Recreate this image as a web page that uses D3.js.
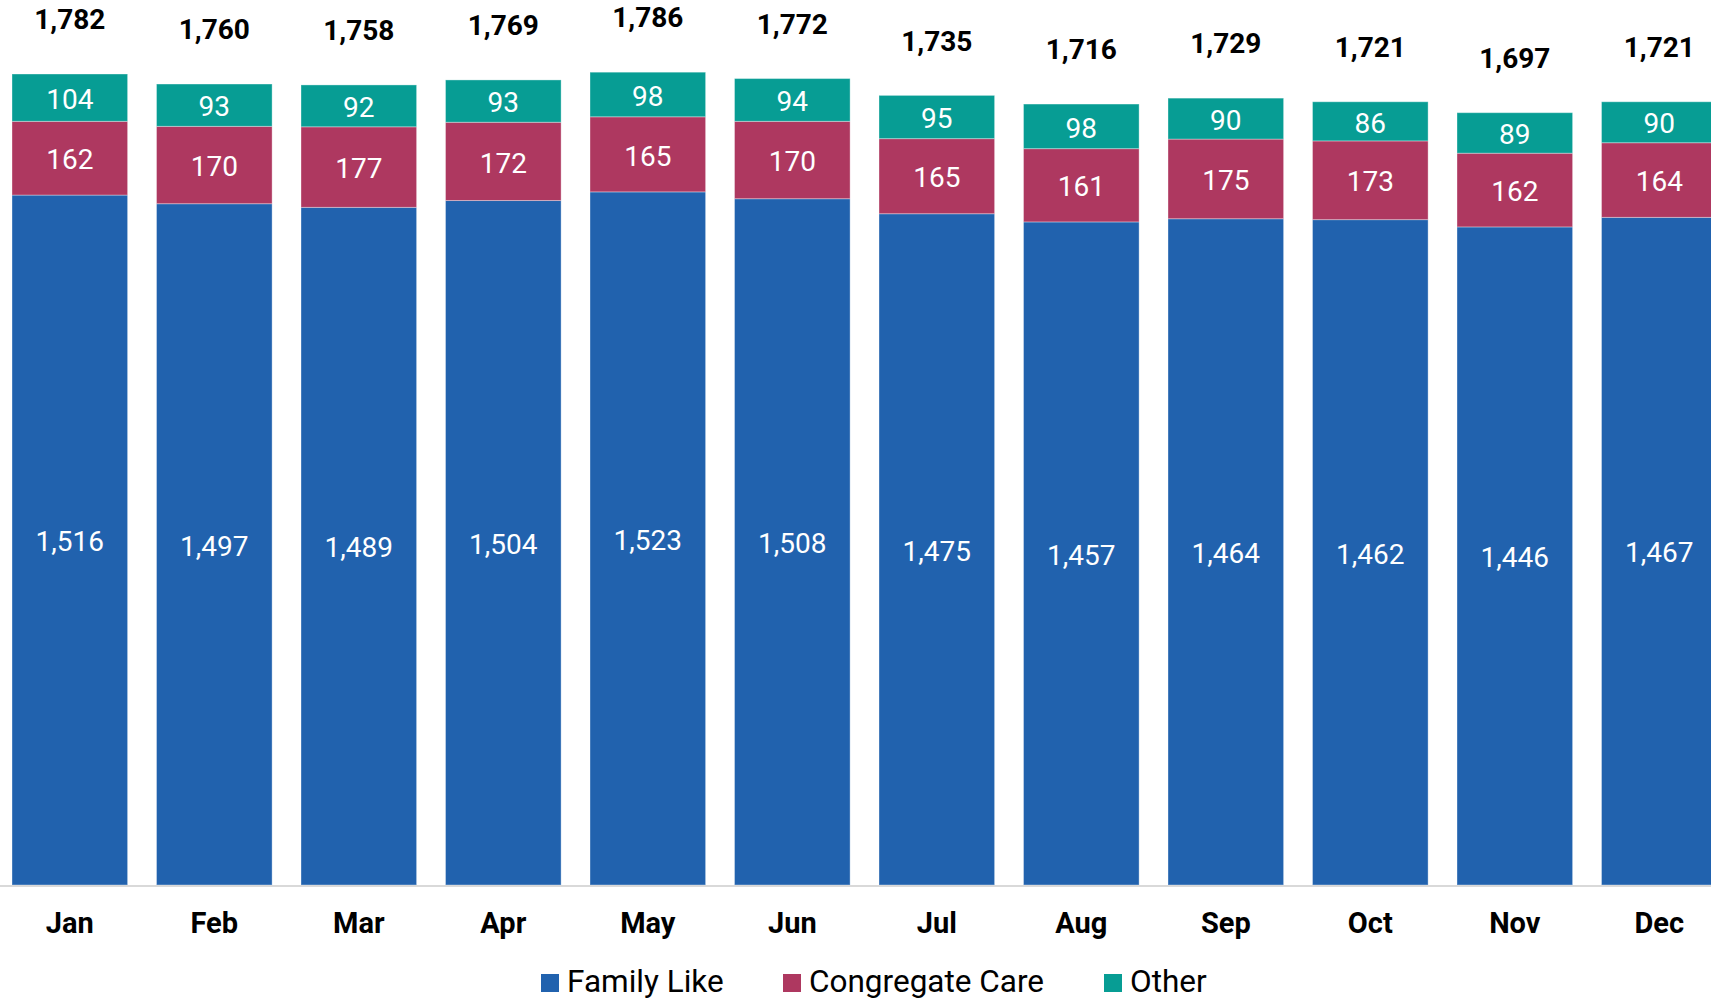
<!DOCTYPE html>
<html>
<head>
<meta charset="utf-8">
<script src="https://cdn.jsdelivr.net/npm/d3@7"></script>
<style>
  body { margin: 0; background: #fff; }
  svg { display: block; }
</style>
</head>
<body>
<script>
var months = ["Jan", "Feb", "Mar", "Apr", "May", "Jun", "Jul", "Aug", "Sep", "Oct", "Nov", "Dec"];
var familyLike = [1516, 1497, 1489, 1504, 1523, 1508, 1475, 1457, 1464, 1462, 1446, 1467];
var congregateCare = [162, 170, 177, 172, 165, 170, 165, 161, 175, 173, 162, 164];
var other = [104, 93, 92, 93, 98, 94, 95, 98, 90, 86, 89, 90];
var seriesNames = ["Family Like", "Congregate Care", "Other"];

var colors = ["#2162ae", "#ae3860", "#079d94"];

var w = 1711;
var h = 999;
var baseY = 885;
var pxPerUnit = 0.4551;

var rows = months.map(function(m, i) {
	return { month: m, "Family Like": familyLike[i], "Congregate Care": congregateCare[i], "Other": other[i] };
});

var stack = d3.stack().keys(seriesNames);
var layers = stack(rows);

var x = d3.scaleBand()
	.domain(months)
	.range([-2.45, -2.45 + 12 * 144.5])
	.paddingInner(0.2)
	.paddingOuter(0.1);

var y = d3.scaleLinear()
	.domain([0, 2000])
	.range([baseY, baseY - 2000 * pxPerUnit]);

var fmt = d3.format(",");

var svg = d3.select("body")
	.append("svg")
	.attr("width", w)
	.attr("height", h)
	.style("font-family", "Roboto, sans-serif");

var groups = svg.selectAll("g.layer")
	.data(layers)
	.enter()
	.append("g")
	.attr("class", "layer")
	.attr("fill", function(d, i) { return colors[i]; });

groups.selectAll("rect")
	.data(function(d) { return d; })
	.enter()
	.append("rect")
	.attr("x", function(d) { return x(d.data.month); })
	.attr("y", function(d) { return y(d[1]); })
	.attr("width", x.bandwidth())
	.attr("height", function(d) { return y(d[0]) - y(d[1]); })
	.attr("stroke", "#ffffff")
	.attr("stroke-opacity", 0.35)
	.attr("stroke-width", 1);

// value labels inside segments
groups.selectAll("text")
	.data(function(d) { return d; })
	.enter()
	.append("text")
	.text(function(d) { return fmt(d[1] - d[0]); })
	.attr("x", function(d) { return x(d.data.month) + x.bandwidth() / 2; })
	.attr("y", function(d) { return (y(d[0]) + y(d[1])) / 2; })
	.attr("dy", "0.4em")
	.attr("text-anchor", "middle")
	.attr("font-size", "28px")
	.attr("fill", "white");

// totals
var totals = months.map(function(m, i) { return familyLike[i] + congregateCare[i] + other[i]; });
svg.selectAll("text.total")
	.data(totals)
	.enter()
	.append("text")
	.attr("class", "total")
	.text(function(d) { return fmt(d); })
	.attr("x", function(d, i) { return x(months[i]) + x.bandwidth() / 2; })
	.attr("y", function(d) { return y(d) - 54; })
	.attr("dy", "0.33em")
	.attr("text-anchor", "middle")
	.attr("font-size", "28px")
	.attr("font-weight", "bold")
	.attr("fill", "#000");

// x axis
var xAxis = svg.append("g")
	.attr("transform", "translate(0," + (baseY + 1) + ")")
	.call(d3.axisBottom(x).tickSize(0).tickPadding(26));
xAxis.select(".domain").remove();
xAxis.append("line")
	.attr("x1", 0)
	.attr("x2", w)
	.attr("y1", 0)
	.attr("y2", 0)
	.attr("stroke", "#d9d9d9")
	.attr("stroke-width", 2);
xAxis.selectAll("text")
	.attr("font-family", "Roboto, sans-serif")
	.attr("font-size", "29px")
	.attr("font-weight", "bold")
	.attr("fill", "#000");

// legend
var legendX = [541, 783, 1104];
var legend = svg.selectAll("g.legend")
	.data(seriesNames)
	.enter()
	.append("g")
	.attr("class", "legend")
	.attr("transform", function(d, i) { return "translate(" + legendX[i] + ",983)"; });
legend.append("rect")
	.attr("x", 0)
	.attr("y", -9)
	.attr("width", 18)
	.attr("height", 18)
	.attr("fill", function(d, i) { return colors[i]; });
legend.append("text")
	.text(function(d) { return d; })
	.attr("x", 26)
	.attr("y", 9)
	.attr("font-size", "31.5px")
	.attr("fill", "#000");
</script>
</body>
</html>
